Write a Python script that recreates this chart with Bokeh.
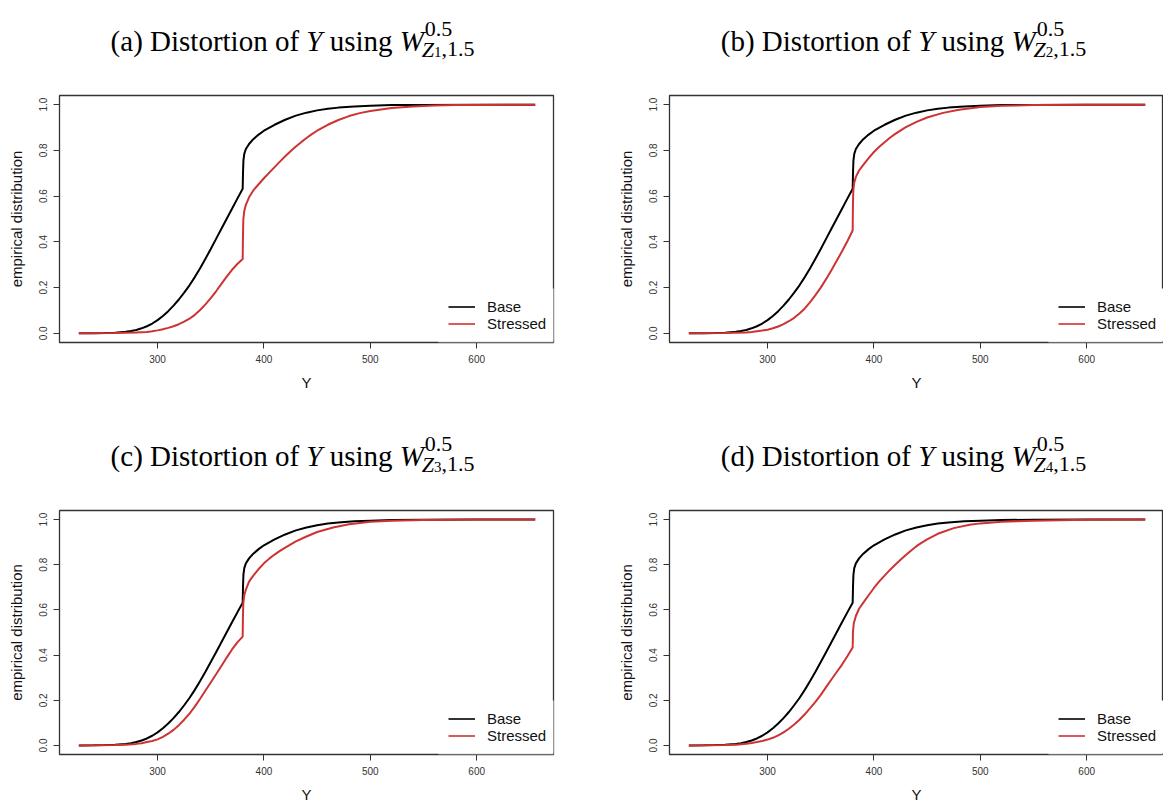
import math
from bokeh.plotting import figure
from bokeh.layouts import column, row
from bokeh.models import (Label, Legend, LegendItem, Range1d, BoxAnnotation,
                          FixedTicker, PrintfTickFormatter)
from bokeh.embed import file_html
from bokeh.resources import INLINE

# ---------------- data ----------------
x_ticks = [300, 400, 500, 600]
y_ticks = [0.0, 0.2, 0.4, 0.6, 0.8, 1.0]

base_x = [226, 240, 250, 260, 270, 275, 280, 285, 290, 295, 300, 305, 310, 315, 320,
          325, 330, 335, 340, 345, 350, 355, 360, 365, 370, 375, 380, 380.3, 380.7,
          381.5, 383, 386, 390, 395, 400, 410, 420, 430, 440, 450, 460, 470, 485,
          500, 520, 550, 600, 655]
base_y = [0.0, 0.0005, 0.0015, 0.003, 0.007, 0.010, 0.015, 0.022, 0.031, 0.043, 0.058,
          0.076, 0.097, 0.121, 0.148, 0.178, 0.210, 0.246, 0.285, 0.326, 0.369, 0.413,
          0.457, 0.501, 0.545, 0.589, 0.632, 0.700, 0.755, 0.785, 0.806, 0.828, 0.849,
          0.869, 0.886, 0.912, 0.934, 0.952, 0.965, 0.975, 0.982, 0.987, 0.992, 0.995,
          0.998, 0.999, 1.0, 1.0]

stressed_a_x = [226, 260, 280, 290, 295, 300, 305, 310, 315, 320, 325, 330, 335, 340,
                345, 350, 355, 360, 365, 370, 375, 380, 380.25, 380.6, 381.5, 383, 386,
                390, 395, 400, 405, 410, 415, 420, 425, 430, 435, 440, 445, 450, 460,
                470, 480, 490, 500, 520, 540, 560, 580, 600, 655]
stressed_a_y = [0.0, 0.001, 0.004, 0.006, 0.009, 0.013, 0.018, 0.024, 0.031, 0.040,
                0.051, 0.064, 0.081, 0.102, 0.127, 0.154, 0.184, 0.216, 0.248, 0.278,
                0.303, 0.325, 0.42, 0.497, 0.535, 0.562, 0.595, 0.625, 0.652, 0.678,
                0.703, 0.727, 0.751, 0.774, 0.796, 0.817, 0.836, 0.854, 0.871, 0.886,
                0.912, 0.933, 0.950, 0.963, 0.972, 0.985, 0.992, 0.996, 0.998, 0.999,
                1.0]

stressed_b_x = [226, 260, 280, 285, 290, 295, 300, 305, 310, 315, 320, 325, 330, 335,
                340, 345, 350, 355, 360, 365, 370, 375, 380, 380.25, 380.6, 381.5, 383,
                386, 390, 395, 400, 405, 410, 415, 420, 430, 440, 450, 465, 480, 500,
                520, 550, 600, 655]
stressed_b_y = [0.0, 0.001, 0.004, 0.006, 0.009, 0.012, 0.016, 0.022, 0.030, 0.040,
                0.053, 0.068, 0.087, 0.109, 0.137, 0.167, 0.200, 0.237, 0.276, 0.317,
                0.359, 0.403, 0.450, 0.56, 0.626, 0.66, 0.684, 0.712, 0.737, 0.766,
                0.793, 0.816, 0.836, 0.855, 0.872, 0.902, 0.925, 0.944, 0.964, 0.978,
                0.990, 0.995, 0.998, 1.0, 1.0]

stressed_c_x = [226, 260, 270, 280, 285, 290, 295, 300, 305, 310, 315, 320, 325, 330,
                335, 340, 345, 350, 355, 360, 365, 370, 375, 380, 380.25, 380.6, 381.5,
                383, 386, 390, 395, 400, 405, 410, 415, 420, 430, 440, 450, 465, 480,
                500, 520, 550, 600, 655]
stressed_c_y = [0.0, 0.002, 0.003, 0.007, 0.010, 0.015, 0.020, 0.027, 0.038, 0.052,
                0.069, 0.090, 0.114, 0.141, 0.172, 0.207, 0.243, 0.279, 0.315, 0.352,
                0.389, 0.425, 0.456, 0.482, 0.57, 0.630, 0.665, 0.690, 0.725, 0.752,
                0.781, 0.806, 0.827, 0.845, 0.861, 0.876, 0.903, 0.925, 0.945, 0.965,
                0.979, 0.990, 0.995, 0.998, 1.0, 1.0]

stressed_d_x = [226, 260, 270, 280, 285, 290, 295, 300, 305, 310, 315, 320, 325, 330,
                335, 340, 345, 350, 355, 360, 365, 370, 375, 380, 380.25, 381, 383, 386,
                390, 395, 400, 405, 410, 415, 420, 425, 430, 435, 440, 445, 450, 460,
                475, 490, 500, 520, 550, 600, 655]
stressed_d_y = [0.0, 0.002, 0.003, 0.008, 0.011, 0.015, 0.020, 0.026, 0.034, 0.045,
                0.058, 0.074, 0.093, 0.114, 0.138, 0.165, 0.193, 0.224, 0.258, 0.292,
                0.325, 0.358, 0.395, 0.434, 0.50, 0.54, 0.573, 0.605, 0.632, 0.665,
                0.697, 0.726, 0.752, 0.777, 0.800, 0.822, 0.843, 0.863, 0.882, 0.898,
                0.912, 0.937, 0.962, 0.977, 0.983, 0.990, 0.995, 0.999, 1.0]

panel_letters = ["a", "b", "c", "d"]
panel_z = ["1", "2", "3", "4"]
stressed_x = [stressed_a_x, stressed_b_x, stressed_c_x, stressed_d_x]
stressed_y = [stressed_a_y, stressed_b_y, stressed_c_y, stressed_d_y]
legend_labels = ["Base", "Stressed"]

BLACK = "#000000"
RED = "#CD3333"
AXC = "#333333"
SANS = "Liberation Sans"
SERIF = "Liberation Serif"

# Times metrics (per 1000 em) for laying out the title pieces
TIMES = {' ': 250, '(': 333, ')': 333, 'a': 444, 'b': 500, 'c': 444, 'd': 500,
         'D': 722, 'i': 278, 's': 389, 't': 278, 'o': 500, 'r': 333, 'n': 500,
         'f': 333, 'u': 500, 'g': 500, '0': 500, '.': 250, '5': 500, '1': 500,
         ',': 250, '2': 500, '3': 500, '4': 500}
TIMES_I = {'Y': 556, 'W': 833, 'Z': 556}


def tw(s, size, italic=False):
    tab = TIMES_I if italic else TIMES
    return sum(tab.get(ch, 500) for ch in s) / 1000.0 * size


TITLE_H = 90


def make_title(idx, width):
    t = figure(width=width, height=TITLE_H, output_backend="svg", toolbar_location=None,
               x_range=Range1d(0, width), y_range=Range1d(0, TITLE_H),
               min_border=0, min_border_left=0, min_border_right=0,
               min_border_top=0, min_border_bottom=0)
    t.axis.visible = False
    t.grid.visible = False
    t.outline_line_color = None
    F, f2, f3 = 29, 22, 15
    ys = TITLE_H - 40
    main = "(%s) Distortion of" % panel_letters[idx]
    head = (tw(main, F) + tw(" ", F) + tw("Y", F, True) + tw(" ", F) +
            tw("using", F) + tw(" ", F) + tw("W", F, True))
    sup_off = 0.03 * F
    sub_off = -0.08 * F
    sub_w = tw("Z", f2, True) + tw("1", f3) + tw(",1.5", f2)
    tail = max(sup_off + tw("0.5", f2), sub_off + sub_w)
    x = 292 - (head + tail) / 2.0
    common = dict(text_font=SERIF, text_color="#000000", text_baseline="alphabetic",
                  text_align="left")
    t.add_layout(Label(x=x, y=ys, text=main, text_font_size="%dpx" % F, **common))
    x += tw(main, F) + tw(" ", F)
    t.add_layout(Label(x=x, y=ys, text="Y", text_font_size="%dpx" % F,
                       text_font_style="italic", **common))
    x += tw("Y", F, True) + tw(" ", F)
    t.add_layout(Label(x=x, y=ys, text="using", text_font_size="%dpx" % F, **common))
    x += tw("using", F) + tw(" ", F)
    t.add_layout(Label(x=x, y=ys, text="W", text_font_size="%dpx" % F,
                       text_font_style="italic", **common))
    x += tw("W", F, True)
    t.add_layout(Label(x=x + sup_off, y=ys + 0.40 * F, text="0.5",
                       text_font_size="%dpx" % f2, **common))
    xs = x + sub_off
    ysub = ys - 0.30 * F
    t.add_layout(Label(x=xs, y=ysub, text="Z", text_font_size="%dpx" % f2,
                       text_font_style="italic", **common))
    xs += tw("Z", f2, True)
    t.add_layout(Label(x=xs, y=ysub - 3, text=panel_z[idx],
                       text_font_size="%dpx" % f3, **common))
    xs += tw("1", f3)
    t.add_layout(Label(x=xs, y=ysub, text=",1.5", text_font_size="%dpx" % f2, **common))
    return t


def make_panel(idx, width, height, left, right, top, bottom):
    p = figure(width=width, height=height, output_backend="svg", toolbar_location=None,
               x_range=Range1d(207.8, 672.2), y_range=Range1d(-0.04, 1.04),
               min_border_left=left, min_border_right=right,
               min_border_top=top, min_border_bottom=bottom,
               background_fill_color="white", border_fill_color="white")
    p.xgrid.visible = False
    p.ygrid.visible = False
    p.outline_line_color = AXC
    p.outline_line_width = 1.3

    for ax in (p.xaxis[0], p.yaxis[0]):
        ax.axis_line_color = None
        ax.major_tick_out = 6
        ax.major_tick_in = 0
        ax.major_tick_line_color = AXC
        ax.major_tick_line_width = 1
        ax.minor_tick_line_color = None
        ax.major_label_text_font = SANS
        ax.major_label_text_font_size = "10px"
        ax.major_label_text_color = AXC
        ax.axis_label_text_font = SANS
        ax.axis_label_text_font_size = "15px"
        ax.axis_label_text_font_style = "normal"
        ax.axis_label_text_color = "#111111"
    p.xaxis.ticker = FixedTicker(ticks=x_ticks)
    p.yaxis.ticker = FixedTicker(ticks=y_ticks)
    p.yaxis.formatter = PrintfTickFormatter(format="%.1f")
    p.yaxis.major_label_orientation = "vertical"
    p.xaxis.major_label_standoff = 6
    p.yaxis.major_label_standoff = 6
    p.xaxis.axis_label = "Y"
    p.yaxis.axis_label = "empirical distribution"
    p.xaxis.axis_label_standoff = 8
    p.yaxis.axis_label_standoff = 12

    p.line(base_x, base_y, line_color=BLACK, line_width=2)
    p.line(stressed_x[idx], stressed_y[idx], line_color=RED, line_width=2)

    # legend proxies (thinner legend strokes, as in the picture)
    lb = p.line([float("nan")], [float("nan")], line_color=BLACK, line_width=1.6)
    ls = p.line([float("nan")], [float("nan")], line_color=RED, line_width=1.6)
    leg = Legend(items=[LegendItem(label=legend_labels[0], renderers=[lb]),
                        LegendItem(label=legend_labels[1], renderers=[ls])],
                 location=(389, 10), orientation="vertical",
                 background_fill_alpha=0, border_line_color=None,
                 label_text_font=SANS, label_text_font_size="15px",
                 label_text_color="#111111",
                 glyph_width=27, glyph_height=15, label_height=15,
                 label_standoff=12, spacing=0, padding=0, margin=0)
    p.add_layout(leg)

    # white legend background partly covering the frame border
    p.add_layout(BoxAnnotation(left=379, right=520, bottom=1, top=54,
                               left_units="screen", right_units="screen",
                               bottom_units="screen", top_units="screen",
                               fill_color="white", fill_alpha=1, line_color=None,
                               level="overlay"))
    p.add_layout(BoxAnnotation(left=379, right=520, bottom=-1.5, top=1,
                               left_units="screen", right_units="screen",
                               bottom_units="screen", top_units="screen",
                               fill_color="white", fill_alpha=0.55, line_color=None,
                               level="overlay"))
    return p


ta = make_title(0, 611)
tb = make_title(1, 552)
tc = make_title(2, 611)
td = make_title(3, 552)
pa = make_panel(0, 611, 415 - TITLE_H, 59, 58, 5, 73)
pb = make_panel(1, 552, 415 - TITLE_H, 58, 0, 5, 73)
pc = make_panel(2, 611, 390 - TITLE_H, 59, 58, 5, 48)
pd = make_panel(3, 552, 390 - TITLE_H, 58, 0, 5, 48)

layout = column(row(ta, tb), row(pa, pb), row(tc, td), row(pc, pd))
open("out.html", "w").write(file_html(layout, INLINE))
